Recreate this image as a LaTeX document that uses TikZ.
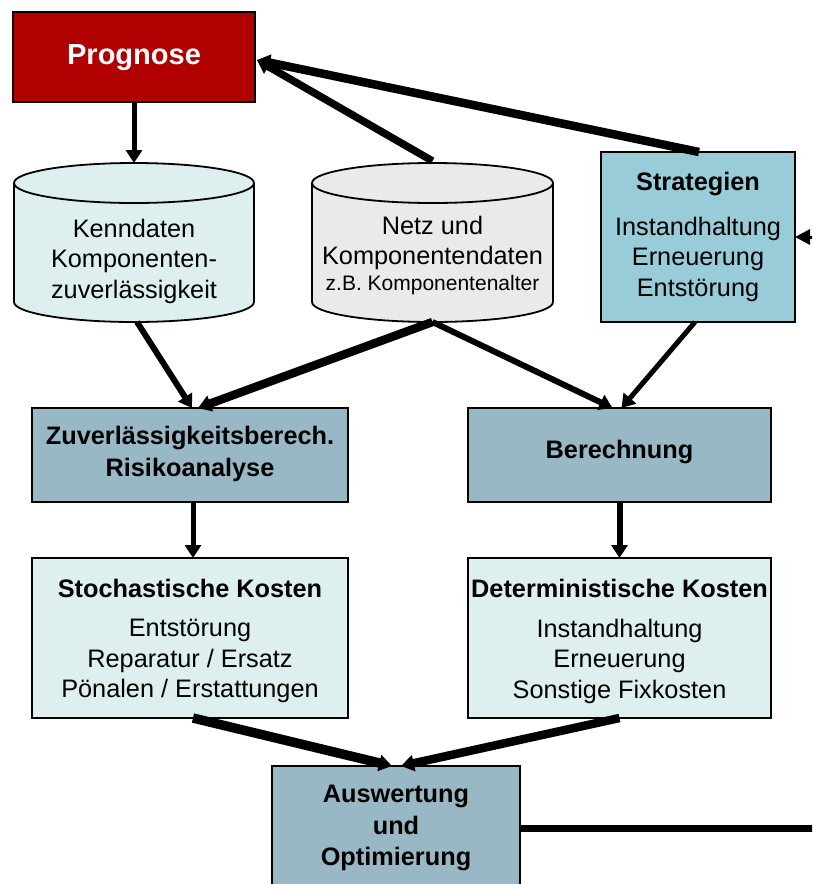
\documentclass[tikz,border=0pt]{standalone}
\usepackage{fontspec}
\setmainfont{Liberation Sans}
\usetikzlibrary{arrows.meta,calc}
\definecolor{progred}{HTML}{B00000}
\definecolor{palecyan}{HTML}{DDF0EF}
\definecolor{cylgray}{HTML}{EAEAEA}
\definecolor{stratblue}{HTML}{99CCD9}
\definecolor{calcblue}{HTML}{99B8C6}
\begin{document}
\begin{tikzpicture}[x=1pt,y=1pt,
  box/.style={draw=black, line width=1.8pt, inner sep=0pt, outer sep=0pt},
  area/.style={inner sep=0pt, outer sep=0pt},
  lbl/.style={align=center, inner sep=0pt, font=\fontsize{25.3}{30.5}\selectfont},
  blbl/.style={align=center, inner sep=0pt, font=\fontsize{25.3}{31.5}\selectfont\bfseries},
  slbl/.style={align=center, inner sep=0pt, font=\fontsize{21}{24}\selectfont},
  conn/.style={-{Triangle[length=13pt,width=16pt]}, line width=5pt},
  cyl/.style={draw=black, line width=1.8pt}
]
\useasboundingbox (0,0) rectangle (812,-884);
\clip (0,0) rectangle (812,-884);

% boxes
\node[box, fill=progred, minimum width=242pt, minimum height=90pt] (prog) at (134,-57) {};
\node[box, fill=stratblue, minimum width=194pt, minimum height=170pt] (strat) at (698,-237) {};
\node[box, fill=calcblue, minimum width=316pt, minimum height=94pt] (zuv) at (190,-455) {};
\node[box, fill=calcblue, minimum width=303pt, minimum height=94pt] (ber) at (619.5,-455) {};
\node[box, fill=palecyan, minimum width=316pt, minimum height=160pt] (stoch) at (190,-638) {};
\node[box, fill=palecyan, minimum width=303pt, minimum height=160pt] (det) at (619.5,-638) {};
\node[box, fill=calcblue, minimum width=248pt, minimum height=134pt] (ausw) at (396,-833) {};

% cylinders
\filldraw[cyl, fill=palecyan] (14,-183) -- (14,-302) arc[start angle=180, end angle=360, x radius=120, y radius=20] -- (254,-183) arc[start angle=0, end angle=180, x radius=120, y radius=20] -- cycle;
\draw[cyl] (14,-183) arc[start angle=180, end angle=360, x radius=120, y radius=20];
\node[area, minimum width=240pt, minimum height=159pt] (kenn) at (134,-242.5) {};

\filldraw[cyl, fill=cylgray] (312,-183) -- (312,-302) arc[start angle=180, end angle=360, x radius=120.5, y radius=20] -- (553,-183) arc[start angle=0, end angle=180, x radius=120.5, y radius=20] -- cycle;
\draw[cyl] (312,-183) arc[start angle=180, end angle=360, x radius=120.5, y radius=20];
\node[area, minimum width=241pt, minimum height=159pt] (netz) at (432.5,-242.5) {};

% texts
\node[blbl, text=white, font=\fontsize{29}{34}\selectfont\bfseries] (progt) at (134,-58) {Prognose};
\node[lbl] (kennt) at (134,-261) {Kenndaten\\Komponenten-\\zuverlässigkeit};
\node[lbl] (netzt1) at (432.5,-243) {Netz und\\Komponentendaten};
\node[slbl] (netzt2) at (432.5,-285) {z.B. Komponentenalter};
\node[blbl] (stratt1) at (698,-184) {Strategien};
\node[lbl] (stratt2) at (698,-259) {Instandhaltung\\Erneuerung\\Entstörung};
\node[blbl] (zuvt) at (190,-454) {Zuverlässigkeitsberech.\\Risikoanalyse};
\node[blbl] (bert) at (619.5,-452) {Berechnung};
\node[blbl] (stocht1) at (190,-588) {Stochastische Kosten};
\node[lbl] (stocht2) at (190,-661) {Entstörung\\Reparatur / Ersatz\\Pönalen / Erstattungen};
\node[blbl] (dett1) at (619.5,-588) {Deterministische Kosten};
\node[lbl] (dett2) at (619.5,-661) {Instandhaltung\\Erneuerung\\Sonstige Fixkosten};
\node[blbl] (auswt) at (396,-828) {Auswertung\\und\\Optimierung};

% off-picture ends
\coordinate (rt) at (830,-828);
\coordinate (sin) at (830,-237);

% connectors
\draw[conn, line width=5pt] (prog.south) -- (kenn.north);
\draw[conn, line width=7.5pt] ($(netz.north)+(0,2)$) -- ($(prog.east)+(2,-3)$);
\draw[conn, line width=8.5pt] ($(strat.north)+(1,0)$) -- ($(prog.east)+(2,-3)$);
\draw[conn, line width=6pt] ($(kenn.south)+(3,0)$) -- ($(zuv.north)+(2,0)$);
\draw[conn, line width=8.5pt] (netz.south) -- ($(zuv.north)+(8,0)$);
\draw[conn, line width=6pt] (netz.south) -- ($(ber.north)+(-7,0)$);
\draw[conn, line width=5pt] ($(strat.south)+(-3,0)$) -- ($(ber.north)+(2,0)$);
\draw[conn, line width=5pt] ($(zuv.south)+(3,0)$) -- ($(stoch.north)+(3,0)$);
\draw[conn, line width=6pt] (ber.south) -- (det.north);
\draw[conn, line width=9.5pt] ($(stoch.south)+(3,0)$) -- ($(ausw.north)+(-4,0)$);
\draw[conn, line width=8.5pt] (det.south) -- ($(ausw.north)+(5,0)$);
\draw[line width=7pt] ($(ausw.east)+(0,5)$) -- (rt);
\draw[-{Triangle[length=15pt,width=15pt]}, line width=3pt] (sin) -- (strat.east);
\end{tikzpicture}
\end{document}
